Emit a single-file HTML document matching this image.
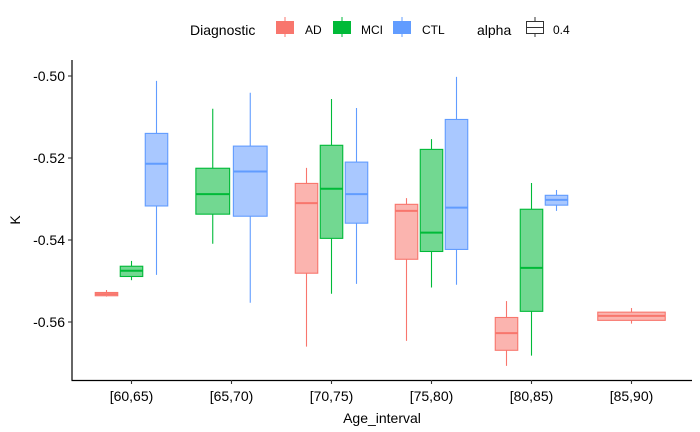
<!DOCTYPE html>
<html><head><meta charset="utf-8"><style>
html,body{margin:0;padding:0;background:#fff;}
svg{display:block;font-family:"Liberation Sans",Arial,sans-serif;}
</style></head><body>
<svg id="chart" width="700" height="432" xmlns="http://www.w3.org/2000/svg">
<g id="legend">
  <text x="190" y="35" font-size="14" fill="#000">Diagnostic</text>
  <g>
    <line x1="285" y1="17" x2="285" y2="37" stroke="#F8766D" stroke-width="1"/>
    <rect x="276" y="21" width="18" height="13" fill="#F8766D"/>
    <text x="305" y="34" font-size="12">AD</text>
  </g>
  <g>
    <line x1="342" y1="17" x2="342" y2="37" stroke="#00BA38" stroke-width="1"/>
    <rect x="333" y="21" width="18" height="13" fill="#00BA38"/>
    <text x="361" y="34" font-size="12">MCI</text>
  </g>
  <g>
    <line x1="402" y1="17" x2="402" y2="37" stroke="#619CFF" stroke-width="1"/>
    <rect x="393" y="21" width="18" height="13" fill="#619CFF"/>
    <text x="422" y="34" font-size="12">CTL</text>
  </g>
  <text x="477" y="35" font-size="14" fill="#000">alpha</text>
  <g>
    <line x1="535" y1="17" x2="535" y2="21.5" stroke="#333" stroke-width="1"/>
    <line x1="535" y1="33.5" x2="535" y2="37" stroke="#333" stroke-width="1"/>
    <rect x="526.5" y="21.5" width="17" height="12" fill="none" stroke="#333" stroke-width="1"/>
    <line x1="526.5" y1="27.5" x2="543.5" y2="27.5" stroke="#333" stroke-width="1"/>
    <text x="553" y="34" font-size="12">0.4</text>
  </g>
</g>
<g id="plot"></g>
<line x1="72" y1="60" x2="72" y2="380.5" stroke="#000" stroke-width="1.2"/>
<line x1="71.5" y1="380.5" x2="692" y2="380.5" stroke="#000" stroke-width="1.2"/>
<g id="yaxis"></g>
<g id="xaxis"></g>
<text x="382" y="423" font-size="14" text-anchor="middle">Age_interval</text>
<text transform="translate(20,220) rotate(-90)" font-size="14" text-anchor="middle">K</text>
</svg>
<script>
const categories = ["[60,65)","[65,70)","[70,75)","[75,80)","[80,85)","[85,90)"];
const groups = ["AD","MCI","CTL"];
// each entry: [lowerWhisker, q1, median, q3, upperWhisker] or null
const adStats = [
  [-0.5538,-0.5536,-0.5532,-0.5528,-0.5522],
  null,
  [-0.5660,-0.5481,-0.5310,-0.5262,-0.5224],
  [-0.5646,-0.5447,-0.5329,-0.5313,-0.5298],
  [-0.5707,-0.5669,-0.5627,-0.5589,-0.5549],
  [-0.5604,-0.5596,-0.5585,-0.5576,-0.5566]
];
const mciStats = [
  [-0.5498,-0.5489,-0.5475,-0.5464,-0.5451],
  [-0.5409,-0.5337,-0.5288,-0.5225,-0.5080],
  [-0.5531,-0.5396,-0.5275,-0.5169,-0.5056],
  [-0.5516,-0.5428,-0.5382,-0.5179,-0.5154],
  [-0.5682,-0.5574,-0.5468,-0.5325,-0.5261],
  null
];
const ctlStats = [
  [-0.5485,-0.5317,-0.5214,-0.5140,-0.5012],
  [-0.5553,-0.5342,-0.5233,-0.5171,-0.5041],
  [-0.5507,-0.5359,-0.5288,-0.5210,-0.5078],
  [-0.5509,-0.5423,-0.5321,-0.5106,-0.5002],
  [-0.5329,-0.5315,-0.5302,-0.5291,-0.5278],
  null
];
const yTicks = [-0.50,-0.52,-0.54,-0.56];
const yTickLabels = ["-0.50","-0.52","-0.54","-0.56"];

const NS="http://www.w3.org/2000/svg";
const lineCols={AD:"#F8766D",MCI:"#00BA38",CTL:"#619CFF"};
const fillCols={AD:"#FBB4AF",MCI:"#72D891",CTL:"#A9C8FF"};
function yScale(v){return 76 + (-0.50 - v)/0.02*82;}
function xScale(i){return 131.5 + i*100;}
function mk(tag,attrs,parent){const e=document.createElementNS(NS,tag);for(const k in attrs)e.setAttribute(k,attrs[k]);parent.appendChild(e);return e;}

const plot=document.getElementById('plot');
const all={AD:adStats,MCI:mciStats,CTL:ctlStats};
categories.forEach((c,i)=>{
  const present=groups.filter(g=>all[g][i]);
  const n=present.length, slot=75/n;
  present.forEach((g,j)=>{
    const s=all[g][i];
    const cx=xScale(i)-37.5+slot*(j+0.5);
    const w=slot*0.9;
    const gEl=mk('g',{},plot);
    
    
    mk('line',{x1:cx,x2:cx,y1:yScale(s[4]),y2:yScale(s[0]),stroke:lineCols[g],'stroke-width':1.1},gEl);
    mk('rect',{x:cx-w/2,y:yScale(s[3]),width:w,height:yScale(s[1])-yScale(s[3]),fill:fillCols[g],stroke:lineCols[g],'stroke-width':1.1},gEl);
    mk('line',{x1:cx-w/2,x2:cx+w/2,y1:yScale(s[2]),y2:yScale(s[2]),stroke:lineCols[g],'stroke-width':2},gEl);
  });
});
const ya=document.getElementById('yaxis');
yTicks.forEach((t,k)=>{
  const y=yScale(t);
  const l=mk('line',{x1:68,x2:72,y1:y,y2:y,stroke:'#333','stroke-width':1.1},ya);
  
  
  const tx=mk('text',{x:65,y:y+5,'font-size':14,'text-anchor':'end',fill:'#000'},ya);
  
  
  tx.textContent=yTickLabels[k];
});
const xa=document.getElementById('xaxis');
categories.forEach((c,i)=>{
  const x=xScale(i);
  const l=mk('line',{x1:x,x2:x,y1:380,y2:384,stroke:'#333','stroke-width':1.1},xa);
  
  
  const tx=mk('text',{x:x,y:401,'font-size':14,'text-anchor':'middle',fill:'#000'},xa);
  
  
  tx.textContent=c;
});
</script>
</body></html>
